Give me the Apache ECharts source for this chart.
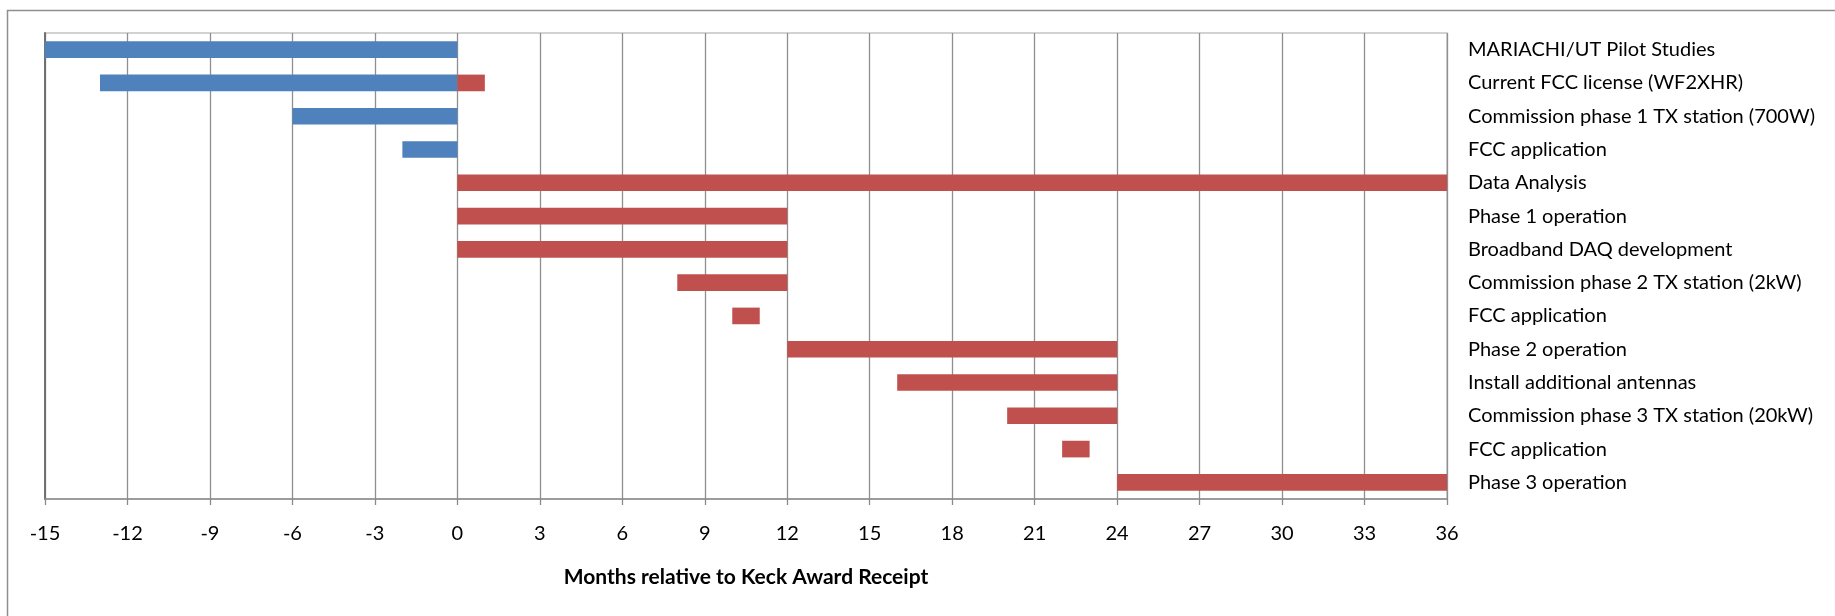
<!DOCTYPE html>
<html>
<head>
<meta charset="utf-8">
<script src="https://cdn.jsdelivr.net/npm/echarts@6/dist/echarts.min.js"></script>
<style>
  html, body { margin: 0; padding: 0; background: #ffffff; }
  #chart { width: 1835px; height: 616px; }
</style>
</head>
<body>
<div id="chart"></div>
<script>
// Project schedule: task names, start and end month of each task
const tasks = [
  'MARIACHI/UT Pilot Studies',
  'Current FCC license (WF2XHR)',
  'Commission phase 1 TX station (700W)',
  'FCC application',
  'Data Analysis',
  'Phase 1 operation',
  'Broadband DAQ development',
  'Commission phase 2 TX station (2kW)',
  'FCC application',
  'Phase 2 operation',
  'Install additional antennas',
  'Commission phase 3 TX station (20kW)',
  'FCC application',
  'Phase 3 operation'
];
const starts = [-15, -13, -6, -2, 0, 0, 0, 8, 10, 12, 16, 20, 22, 24];
const ends   = [  0,   1,  0,  0, 36, 12, 12, 12, 11, 24, 24, 24, 23, 36];

// Axis range and step in months
const monthMin = -15;
const monthMax = 36;
const monthStep = 3;
const axisTitle = 'Months relative to Keck Award Receipt';

// Months before award (negative side) and after award (positive side)
const beforeAward = starts.map((s, i) => (s < 0 ? s - Math.min(ends[i], 0) : '-'));
const gapAfter = starts.map((s, i) => (ends[i] > 0 ? Math.max(s, 0) : '-'));
const afterAward = starts.map((s, i) => (ends[i] > 0 ? ends[i] - Math.max(s, 0) : '-'));

const FONT = 'Lato, "Open Sans", sans-serif';

const chart = echarts.init(document.getElementById('chart'), null, { renderer: 'canvas' });

chart.setOption({
  animation: false,
  backgroundColor: '#ffffff',
  graphic: [{
    type: 'rect',
    left: 5, top: 8,
    shape: { width: 1850, height: 640 },
    style: { fill: 'none', stroke: '#8f8f8f', lineWidth: 1.5 },
    silent: true,
    z: -10
  }],
  grid: {
    left: 45, right: 388, top: 33, bottom: 117,
    show: true,
    borderColor: '#c4c4c4',
    borderWidth: 1.5,
    backgroundColor: 'transparent'
  },
  xAxis: {
    type: 'value',
    min: monthMin,
    max: monthMax,
    interval: monthStep,
    position: 'bottom',
    axisLine: { show: true, onZero: false, lineStyle: { color: '#8a8a8a', width: 1.6 } },
    axisTick: { show: true, length: 6, lineStyle: { color: '#8a8a8a', width: 1.3 } },
    splitLine: { show: true, lineStyle: { color: '#8f8f8f', width: 1.3 } },
    axisLabel: { color: '#000000', fontFamily: FONT, fontSize: 20, margin: 25 },
    name: axisTitle,
    nameLocation: 'middle',
    nameGap: 68,
    nameTextStyle: { color: '#000000', fontFamily: FONT, fontSize: 21, fontWeight: 'bold' }
  },
  yAxis: [{
    type: 'category',
    data: tasks,
    inverse: true,
    position: 'right',
    axisLine: { show: false },
    axisTick: { show: false },
    splitLine: { show: false },
    axisLabel: { color: '#000000', fontFamily: FONT, fontSize: 20, margin: 21, align: 'left' }
  }, {
    type: 'category',
    data: tasks,
    inverse: true,
    position: 'left',
    axisLine: { show: true, lineStyle: { color: '#6a6a6a', width: 1.8 } },
    axisTick: { show: false },
    axisLabel: { show: false },
    splitLine: { show: false }
  }],
  series: [{
    name: 'Before award',
    type: 'bar',
    stack: 'schedule',
    data: beforeAward,
    barCategoryGap: '50%',
    itemStyle: { color: '#4f81bd' }
  }, {
    name: 'Offset',
    type: 'bar',
    stack: 'schedule',
    data: gapAfter,
    itemStyle: { color: 'rgba(0,0,0,0)' },
    silent: true
  }, {
    name: 'After award',
    type: 'bar',
    stack: 'schedule',
    data: afterAward,
    itemStyle: { color: '#c0504d' }
  }]
});
</script>
</body>
</html>
